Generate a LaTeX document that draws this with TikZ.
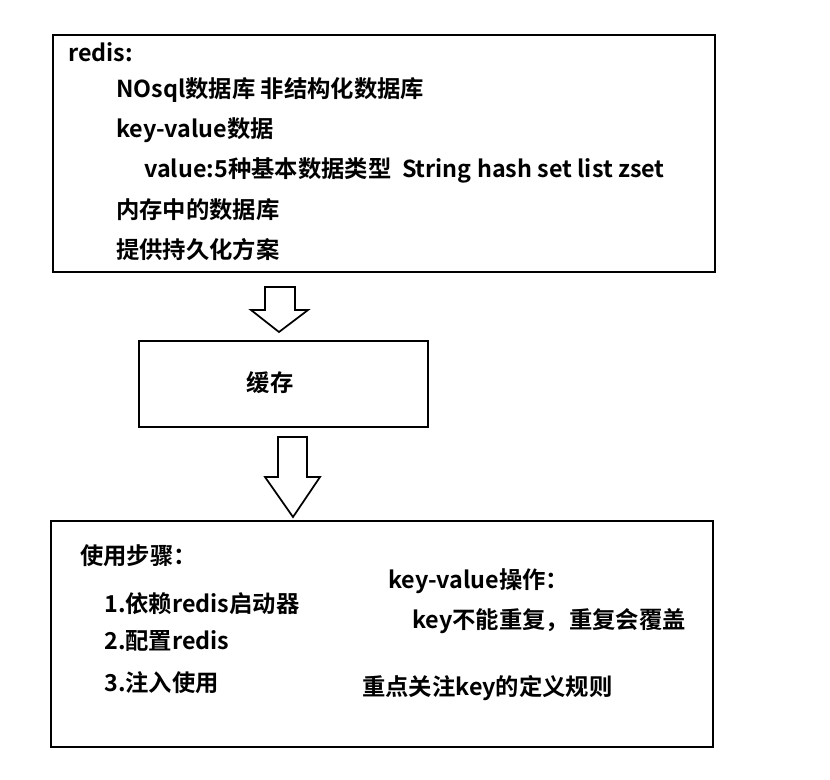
\documentclass[tikz,border=0pt]{standalone}
\usepackage{fontspec}
\setmainfont{Noto Sans CJK SC}[BoldFont={Noto Sans CJK SC Bold}]
\usepackage{tikz}
\usetikzlibrary{arrows.meta,positioning,calc}

\begin{document}
\begin{tikzpicture}[
  x=0.75pt, y=-0.75pt,
  every node/.style={font=\bfseries\fontsize{17.5}{21}\selectfont, inner sep=0pt},
  box/.style={draw, line width=1.5pt, anchor=north west},
  txt/.style={anchor=west},
  hollow/.style={draw, line width=1.3pt, fill=white, line join=miter}
]
\useasboundingbox (0,0) rectangle (830,779);

% boxes
\node[box, minimum width=496.5pt, minimum height=177.75pt] (Redis) at (52,34) {};
\node[box, minimum width=216.75pt, minimum height=64.5pt] (Cache) at (138,340) {};
\node[box, minimum width=496.5pt, minimum height=169.5pt] (Usage) at (50,520) {};

% top box text
\node[txt] (t0) at (68,52) {redis:};
\node[txt] (t1) at (116,90) {NOsql数据库 非结构化数据库};
\node[txt] (t2) at (116,130) {key-value数据};
\node[txt] (t3) at (144,170) {value:5种基本数据类型\ \ String hash set list zset};
\node[txt] (t4) at (116,210) {内存中的数据库};
\node[txt] (t5) at (116,250) {提供持久化方案};

% middle box
\node (c0) at (270,383) {缓存};

% bottom box text
\node[txt] (u0) at (80,556) {使用步骤：};
\node[txt] (u1) at (104,604) {1.依赖redis启动器};
\node[txt] (u2) at (104,641) {2.配置redis};
\node[txt] (u3) at (104,683) {3.注入使用};
\node[txt] (k0) at (388,581) {key-value操作：};
\node[txt] (k1) at (412,621) {key不能重复，重复会覆盖};
\node[txt] (k2) at (362,688) {重点关注key的定义规则};

% block arrows
\coordinate (a1) at (280,287);
\coordinate (a1tip) at (279,332);
\coordinate (a2) at (292.5,437);
\coordinate (a2tip) at (293,517);

\draw[hollow] ($(a1)+(-15,0)$) -- ($(a1)+(15,0)$) -- ($(a1)+(15,23)$) -- ($(a1)+(28,23)$)
  -- (a1tip) -- ($(a1)+(-29,23)$) -- ($(a1)+(-15,23)$) -- cycle;
\draw[hollow] ($(a2)+(-14.5,0)$) -- ($(a2)+(14.5,0)$) -- ($(a2)+(14.5,40)$) -- ($(a2)+(27.5,40)$)
  -- (a2tip) -- ($(a2)+(-27.5,40)$) -- ($(a2)+(-14.5,40)$) -- cycle;

\end{tikzpicture}
\end{document}
